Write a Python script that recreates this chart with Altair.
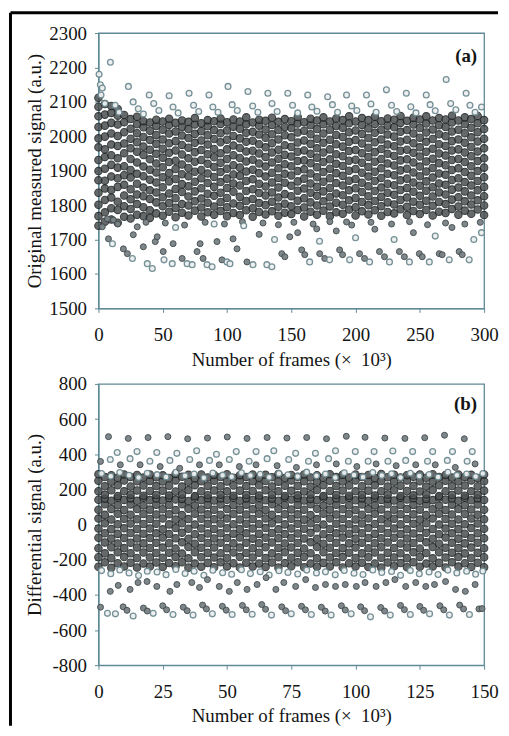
import altair as alt
import pandas as pd

FONT = "Liberation Serif"
AX = "#5f8a96"
TXT = "#141414"

# ---------------- panel (a): original measured signal ----------------
a_core_x = [0, 5, 10, 15, 20, 25, 30, 35, 40, 45, 50, 55, 60, 65, 70, 75, 80, 85, 90, 95,
            100, 105, 110, 115, 120, 125, 130, 135, 140, 145, 150, 155, 160, 165, 170, 175,
            180, 185, 190, 195, 200, 205, 210, 215, 220, 225, 230, 235, 240, 245, 250, 255,
            260, 265, 270, 275, 280, 285, 290, 295, 300]
a_core_y = [
    [1740, 1768, 1801, 1836, 1872, 1899, 1931, 1968, 1994, 2027, 2058, 2086, 2112],
    [1752, 1779, 1815, 1848, 1871, 1906, 1940, 1962, 1999, 2031, 2063, 2094],
    [1758, 1791, 1822, 1844, 1883, 1917, 1945, 1976, 2008, 2039, 2068, 2088],
    [1749, 1786, 1810, 1853, 1878, 1909, 1936, 1972, 2001, 2034, 2060, 2079],
    [1766, 1797, 1828, 1859, 1887, 1913, 1951, 1979, 2012, 2041, 2062],
    [1761, 1789, 1817, 1846, 1880, 1902, 1934, 1965, 1993, 2022, 2050],
    [1772, 1803, 1831, 1862, 1891, 1924, 1955, 1983, 2009, 2035, 2057],
    [1768, 1794, 1826, 1851, 1884, 1912, 1946, 1970, 1998, 2026, 2044],
    [1763, 1785, 1818, 1843, 1874, 1903, 1933, 1961, 1989, 2016, 2040],
    [1776, 1808, 1837, 1866, 1895, 1921, 1949, 1978, 2004, 2030, 2048],
    [1769, 1797, 1823, 1852, 1881, 1910, 1938, 1964, 1991, 2019, 2043],
    [1781, 1806, 1834, 1869, 1893, 1925, 1952, 1980, 2008, 2033, 2051],
    [1765, 1792, 1820, 1847, 1876, 1905, 1929, 1959, 1986, 2014, 2039],
    [1778, 1803, 1838, 1861, 1890, 1918, 1947, 1975, 2002, 2027, 2046],
    [1770, 1799, 1825, 1855, 1884, 1908, 1936, 1967, 1995, 2021, 2042],
    [1784, 1811, 1840, 1868, 1897, 1926, 1954, 1981, 2007, 2034, 2053],
    [1767, 1793, 1819, 1849, 1878, 1902, 1931, 1960, 1988, 2015, 2038],
    [1779, 1807, 1833, 1864, 1892, 1920, 1948, 1976, 2003, 2029, 2047],
    [1772, 1796, 1827, 1853, 1882, 1911, 1939, 1963, 1992, 2018, 2044],
    [1783, 1809, 1836, 1867, 1896, 1923, 1951, 1983, 2009, 2036, 2052],
    [1768, 1794, 1821, 1850, 1877, 1906, 1934, 1962, 1990, 2017, 2041],
    [1777, 1805, 1839, 1863, 1889, 1916, 1945, 1973, 2001, 2028, 2049],
    [1771, 1798, 1824, 1857, 1885, 1909, 1937, 1966, 1994, 2022, 2043],
    [1785, 1812, 1841, 1870, 1898, 1927, 1956, 1984, 2010, 2035, 2055],
    [1766, 1791, 1818, 1846, 1875, 1903, 1932, 1958, 1987, 2013, 2040],
    [1780, 1806, 1835, 1862, 1893, 1921, 1950, 1977, 2005, 2031, 2048],
    [1773, 1800, 1828, 1854, 1883, 1912, 1940, 1968, 1996, 2020, 2045],
    [1782, 1810, 1837, 1866, 1894, 1924, 1953, 1980, 2006, 2033, 2054],
    [1769, 1795, 1822, 1851, 1879, 1907, 1935, 1961, 1991, 2018, 2042],
    [1778, 1804, 1832, 1865, 1891, 1919, 1946, 1974, 2003, 2027, 2050],
    [1774, 1797, 1826, 1856, 1886, 1913, 1941, 1969, 1997, 2024, 2044],
    [1786, 1813, 1842, 1869, 1899, 1928, 1955, 1982, 2011, 2037, 2056],
    [1767, 1793, 1820, 1848, 1877, 1904, 1930, 1959, 1988, 2016, 2041],
    [1781, 1808, 1836, 1863, 1892, 1922, 1949, 1978, 2006, 2032, 2051],
    [1772, 1799, 1827, 1853, 1881, 1910, 1938, 1965, 1993, 2021, 2046],
    [1784, 1811, 1840, 1868, 1896, 1925, 1953, 1981, 2008, 2035, 2055],
    [1768, 1796, 1823, 1850, 1878, 1906, 1933, 1962, 1990, 2019, 2043],
    [1779, 1807, 1834, 1864, 1893, 1920, 1948, 1977, 2004, 2030, 2052],
    [1775, 1801, 1829, 1857, 1885, 1914, 1942, 1970, 1998, 2025, 2047],
    [1787, 1814, 1843, 1871, 1900, 1929, 1957, 1984, 2012, 2038, 2058],
    [1770, 1794, 1821, 1849, 1876, 1905, 1932, 1960, 1989, 2017, 2043],
    [1782, 1809, 1838, 1865, 1894, 1923, 1951, 1979, 2007, 2033, 2053],
    [1773, 1800, 1826, 1855, 1883, 1911, 1940, 1967, 1995, 2023, 2047],
    [1785, 1812, 1841, 1870, 1897, 1926, 1954, 1983, 2010, 2036, 2057],
    [1769, 1797, 1824, 1851, 1879, 1907, 1934, 1963, 1991, 2019, 2044],
    [1780, 1808, 1836, 1862, 1891, 1921, 1949, 1976, 2005, 2031, 2052],
    [1776, 1802, 1830, 1858, 1887, 1915, 1943, 1971, 1999, 2026, 2048],
    [1788, 1815, 1844, 1872, 1901, 1930, 1958, 1985, 2013, 2039, 2059],
    [1771, 1795, 1822, 1850, 1877, 1906, 1933, 1961, 1990, 2018, 2045],
    [1783, 1810, 1839, 1866, 1895, 1924, 1952, 1980, 2008, 2034, 2054],
    [1774, 1801, 1827, 1856, 1884, 1912, 1941, 1968, 1996, 2024, 2049],
    [1786, 1813, 1842, 1869, 1898, 1927, 1955, 1984, 2011, 2037, 2058],
    [1770, 1798, 1825, 1852, 1880, 1908, 1935, 1964, 1992, 2020, 2046],
    [1781, 1809, 1837, 1863, 1892, 1922, 1950, 1977, 2006, 2032, 2053],
    [1777, 1803, 1831, 1859, 1888, 1916, 1944, 1972, 2000, 2027, 2049],
    [1789, 1816, 1845, 1873, 1902, 1931, 1959, 1986, 2014, 2040, 2060],
    [1772, 1796, 1823, 1851, 1878, 1907, 1934, 1962, 1991, 2019, 2046],
    [1784, 1811, 1840, 1867, 1896, 1925, 1953, 1981, 2009, 2035, 2055],
    [1775, 1802, 1828, 1857, 1885, 1913, 1942, 1969, 1997, 2025, 2050],
    [1787, 1814, 1843, 1870, 1899, 1928, 1956, 1985, 2012, 2038, 2059],
    [1771, 1799, 1826, 1853, 1881, 1909, 1936, 1965, 1993, 2021, 2047],
]

a_top_x = [0.5, 1.5, 3.0, 9.3, 23.3, 39.5, 55.0, 70.5, 86.0, 100.8, 116.3, 131.8, 147.3,
           162.8, 178.3, 193.0, 208.5, 224.0, 239.5, 255.0, 270.5, 286.0]
a_top_y = [2180, 2150, 2140, 2215, 2145, 2120, 2118, 2125, 2120, 2145, 2130, 2125, 2125,
           2120, 2115, 2120, 2120, 2135, 2125, 2120, 2165, 2125]

a_up2_x = [2, 5, 13, 16, 27, 31, 35, 43, 47, 58, 62, 74, 78, 89, 93, 104, 108, 120, 124, 135,
           139, 151, 155, 166, 170, 182, 186, 197, 201, 212, 216, 228, 232, 243, 247, 258,
           262, 274, 278, 289, 293, 298]
a_up2_y = [2120, 2095, 2090, 2070, 2100, 2080, 2065, 2095, 2075, 2085, 2068, 2090, 2072, 2085,
           2070, 2092, 2075, 2088, 2070, 2095, 2072, 2090, 2068, 2085, 2073, 2092, 2070, 2088,
           2075, 2094, 2070, 2090, 2072, 2086, 2068, 2092, 2074, 2095, 2077, 2090, 2070, 2085]

a_low_f_x = [3, 7.0, 11.6, 7.8, 19.4, 22.5, 30.2, 27.1, 34.9, 44.2, 45.7, 50.4, 58.1, 65.1,
             76.7, 79.1, 81.4, 92.2, 96.1, 104.7, 107.8, 115.5, 125, 142.6, 145, 148.8, 155,
             158.1, 160.5, 169.8, 172.1, 176, 185, 187.6, 189.9, 193, 203.1, 207, 215, 218.6,
             222.5, 234.1, 238, 245, 249.6, 251.9, 265.1, 267.4, 275, 280.6, 283]
a_low_f_y = [1737, 1760, 1757, 1702, 1673, 1659, 1737, 1714, 1679, 1694, 1708, 1665, 1688, 1645,
             1665, 1688, 1645, 1694, 1641, 1702, 1673, 1635, 1715, 1659, 1650, 1708, 1720,
             1670, 1656, 1731, 1659, 1645, 1725, 1670, 1656, 1751, 1659, 1645, 1730, 1665,
             1650, 1665, 1650, 1720, 1659, 1650, 1659, 1656, 1735, 1665, 1656]

a_low_h_x = [10.9, 26.4, 38, 41.9, 51, 57.4, 60, 69, 72.9, 84.5, 88.4, 90, 100, 102.3, 113,
             120.2, 131, 134.9, 137, 164.3, 172, 179.8, 195.4, 200, 210.9, 226.4, 230, 241.9,
             257.4, 262, 272.9, 288.4, 292, 298]
a_low_h_y = [1688, 1645, 1630, 1616, 1641, 1630, 1735, 1630, 1627, 1627, 1621, 1745, 1635, 1630,
             1740, 1627, 1627, 1621, 1700, 1635, 1695, 1641, 1641, 1705, 1635, 1635, 1700, 1635,
             1635, 1710, 1641, 1641, 1700, 1720]

a_edge_x = [15, 37, 52, 67, 83, 98, 112, 128, 140, 152, 167, 180, 197, 212, 228, 242, 256, 270, 285, 297]
a_edge_y = [1745, 1750, 1748, 1742, 1750, 1745, 1752, 1748, 1743, 1750, 1745, 1752, 1742, 1750,
            1745, 1752, 1743, 1748, 1745, 1750]

# ---------------- panel (b): differential signal ----------------
b_core_x = [0, 2.5, 5, 7.5, 10, 12.5, 15, 17.5, 20, 22.5, 25, 27.5, 30, 32.5, 35, 37.5, 40,
            42.5, 45, 47.5, 50, 52.5, 55, 57.5, 60, 62.5, 65, 67.5, 70, 72.5, 75, 77.5, 80,
            82.5, 85, 87.5, 90, 92.5, 95, 97.5, 100, 102.5, 105, 107.5, 110, 112.5, 115,
            117.5, 120, 122.5, 125, 127.5, 130, 132.5, 135, 137.5, 140, 142.5, 145, 147.5, 150]
b_core_y = [
    [-240, -186, -135, -75, -22, 34, 84, 141, 190, 249, 286],
    [-215, -164, -102, -49, 7, 55, 115, 147, 169, 218, 270],
    [-246, -191, -129, -80, -26, 29, 89, 136, 195, 244, 281],
    [-220, -158, -108, -53, 2, 61, 110, 152, 163, 223, 266],
    [-238, -185, -134, -76, -21, 33, 83, 140, 189, 250, 285],
    [-217, -163, -103, -48, 6, 56, 114, 149, 170, 217, 271],
    [-244, -190, -130, -79, -25, 30, 88, 135, 194, 246, 282],
    [-221, -159, -107, -52, 3, 60, 109, 153, 164, 222, 267],
    [-239, -187, -133, -77, -23, 32, 85, 139, 191, 248, 284],
    [-216, -162, -104, -50, 5, 57, 113, 148, 168, 219, 269],
    [-242, -189, -131, -74, -27, 35, 87, 137, 193, 245, 280],
    [-219, -160, -106, -54, 1, 59, 111, 151, 165, 221, 265],
    [-237, -184, -136, -78, -20, 28, 82, 142, 188, 251, 287],
    [-214, -165, -101, -47, 8, 54, 116, 146, 171, 216, 272],
    [-245, -192, -128, -81, -24, 31, 90, 134, 196, 243, 283],
    [-222, -157, -109, -55, 0, 62, 108, 154, 162, 224, 264],
    [-240, -186, -132, -76, -22, 33, 86, 139, 190, 247, 285],
    [-218, -161, -105, -51, 4, 58, 112, 150, 167, 220, 268],
    [-243, -188, -130, -79, -25, 30, 84, 137, 194, 249, 282],
    [-215, -163, -103, -49, 6, 56, 114, 148, 169, 218, 270],
    [-238, -190, -134, -77, -21, 34, 88, 141, 189, 245, 286],
    [-220, -159, -107, -52, 2, 60, 110, 152, 164, 222, 266],
    [-244, -185, -131, -74, -26, 29, 85, 136, 193, 250, 281],
    [-217, -162, -104, -50, 5, 57, 113, 149, 168, 219, 271],
    [-239, -187, -135, -80, -23, 32, 87, 140, 191, 246, 284],
    [-221, -160, -106, -53, 3, 61, 109, 151, 165, 223, 267],
    [-241, -191, -129, -75, -20, 35, 83, 138, 195, 248, 283],
    [-216, -164, -102, -48, 7, 55, 115, 147, 170, 217, 269],
    [-245, -186, -133, -78, -27, 30, 89, 135, 190, 244, 287],
    [-219, -158, -108, -54, 1, 59, 111, 153, 163, 221, 265],
    [-237, -189, -130, -76, -22, 33, 86, 142, 192, 251, 282],
    [-214, -161, -105, -51, 4, 58, 112, 150, 166, 220, 272],
    [-243, -184, -136, -79, -24, 28, 84, 137, 188, 247, 285],
    [-222, -163, -101, -47, 8, 54, 116, 146, 171, 216, 268],
    [-240, -192, -128, -81, -21, 31, 90, 139, 196, 243, 281],
    [-218, -157, -109, -55, 0, 62, 108, 154, 162, 224, 266],
    [-238, -188, -132, -77, -25, 34, 85, 136, 191, 249, 286],
    [-215, -162, -104, -50, 5, 57, 113, 148, 168, 219, 270],
    [-244, -185, -134, -74, -23, 32, 87, 141, 194, 245, 283],
    [-220, -160, -107, -52, 2, 60, 110, 152, 164, 222, 267],
    [-239, -190, -131, -80, -26, 29, 83, 138, 189, 250, 284],
    [-217, -164, -103, -49, 6, 56, 114, 149, 169, 218, 271],
    [-242, -186, -135, -76, -20, 35, 88, 135, 193, 246, 282],
    [-221, -159, -106, -53, 3, 61, 109, 151, 165, 223, 265],
    [-245, -189, -129, -78, -24, 30, 86, 140, 190, 248, 287],
    [-216, -161, -102, -48, 7, 55, 115, 147, 170, 217, 269],
    [-237, -187, -133, -75, -22, 33, 84, 137, 195, 244, 283],
    [-219, -163, -108, -54, 1, 59, 111, 153, 163, 221, 268],
    [-243, -191, -130, -79, -27, 31, 89, 142, 191, 251, 281],
    [-214, -158, -105, -51, 4, 58, 112, 150, 166, 220, 272],
    [-240, -184, -136, -77, -21, 28, 85, 136, 188, 247, 285],
    [-222, -162, -101, -47, 8, 54, 116, 146, 171, 216, 266],
    [-238, -192, -128, -81, -25, 34, 87, 139, 196, 243, 286],
    [-218, -157, -109, -55, 0, 62, 108, 154, 162, 224, 270],
    [-244, -188, -132, -74, -23, 32, 83, 141, 190, 249, 282],
    [-215, -160, -104, -50, 5, 57, 113, 148, 168, 219, 267],
    [-239, -185, -134, -80, -26, 29, 88, 135, 194, 245, 284],
    [-220, -164, -107, -52, 2, 60, 110, 152, 164, 222, 271],
    [-241, -190, -131, -76, -20, 35, 86, 138, 189, 250, 283],
    [-217, -161, -103, -49, 6, 56, 114, 149, 169, 218, 265],
    [-243, -186, -135, -78, -24, 30, 84, 140, 193, 246, 285],
]

b_top_x = [3.9, 11.6, 19.3, 27.0, 34.7, 42.4, 50.1, 57.8, 65.6, 73.3, 81.0, 88.7, 96.4,
           103.7, 111.4, 119.2, 126.9, 134.6, 142.3]
b_top_y = [500, 490, 495, 500, 488, 492, 498, 490, 495, 492, 495, 488, 502, 496, 492, 490,
           494, 508, 488]

b_hi_h_x = [4.6, 7.3, 12.3, 15.0, 20.0, 22.7, 27.8, 30.5, 35.5, 38.2, 43.2, 45.9, 50.9, 53.6,
            58.6, 61.3, 65.6, 68.2, 74.0, 76.7, 81.7, 84.4, 89.5, 92.2, 97.2, 99.9, 104.9,
            107.2, 112.6, 114.5, 119.5, 122.2, 128.0, 130.0, 135.7, 137.7, 143.4, 145.4]
b_hi_h_y = [370, 410, 375, 415, 360, 410, 365, 405, 370, 420, 365, 400, 370, 415, 360, 415,
            375, 420, 370, 405, 360, 405, 375, 420, 360, 415, 360, 415, 360, 418, 365, 415,
            360, 415, 365, 415, 360, 415]

b_mid_f_x = [0.8, 8.5, 16.2, 24.0, 31.6, 39.3, 47.0, 54.8, 61.3, 69.5, 77.0, 84.8, 92.5,
             100.5, 108.0, 115.8, 123.4, 131.0, 138.8, 146.5]
b_mid_f_y = [359, 340, 340, 330, 320, 340, 340, 330, 340, 335, 325, 340, 345, 330, 345, 335,
             340, 340, 325, 345]

b_band_x = [1.2, 4.8, 8.3, 11.9, 15.6, 19.0, 22.8, 26.3, 30.1, 33.7, 37.2, 41.0, 44.5, 48.3,
            51.8, 55.6, 59.1, 62.9, 66.4, 70.2, 73.7, 77.5, 81.0, 84.8, 88.3, 92.1, 95.6,
            99.4, 102.9, 106.7, 110.2, 114.0, 117.5, 121.3, 124.8, 128.6, 132.1, 135.9,
            139.4, 143.2, 146.7, 149.5]
b_band_hi_y = [290, 275, 296, 280, 268, 292, 284, 270, 297, 278, 288, 266, 293, 281, 272, 295,
               279, 286, 269, 291, 283, 274, 298, 277, 287, 267, 294, 282, 271, 296, 279, 289,
               268, 292, 276, 285, 270, 297, 281, 288, 273, 290]
b_band_lo_y = [-262, -280, -258, -275, -290, -265, -270, -285, -256, -278, -266, -288, -260,
               -274, -283, -257, -279, -268, -287, -263, -272, -281, -259, -276, -269, -286,
               -261, -277, -284, -258, -273, -267, -289, -262, -280, -270, -284, -259, -275,
               -266, -282, -264]

b_lo_f_x = [4.6, 7.7, 12.3, 15.4, 18.9, 22.7, 27.8, 30.5, 36.3, 39.3, 42.4, 47.0, 50.9, 54.0,
            57.8, 61.7, 65.2, 69.0, 72.1, 76.7, 80.6, 84.4, 88.3, 92.2, 96.0, 100.3, 103.7,
            108.0, 111.8, 115.3, 119.5, 123.4, 127.3, 130.7, 135.0, 138.9, 142.7, 146.5]
b_lo_f_y = [-380, -346, -369, -330, -324, -352, -380, -341, -330, -358, -313, -352, -380, -330,
            -369, -341, -302, -369, -330, -352, -313, -358, -341, -352, -341, -352, -330, -352,
            -330, -313, -352, -330, -352, -341, -324, -369, -380, -341]

b_bot_f_x = [0.8, 9.6, 11.1, 17.5, 19.0, 25.0, 26.5, 33.0, 34.5, 40.5, 42.0, 48.2, 49.7, 56.0,
             57.5, 63.5, 65.0, 71.3, 72.8, 79.0, 80.5, 86.7, 88.2, 94.5, 96.0, 102.0, 103.5,
             109.8, 111.3, 117.5, 119.0, 125.0, 126.5, 132.8, 134.3, 140.5, 142.0, 148.0, 149.2]
b_bot_f_y = [-470, -468, -488, -475, -492, -462, -485, -470, -490, -458, -480, -465, -487, -460,
             -485, -455, -482, -468, -490, -465, -485, -470, -492, -462, -486, -468, -490, -472,
             -492, -460, -484, -466, -488, -462, -485, -458, -480, -480, -478]

b_bot_h_x = [3.5, 6.6, 13.5, 21.3, 29.0, 36.8, 44.3, 52.0, 59.8, 67.3, 75.0, 82.8, 90.5, 98.3,
             105.8, 113.5, 121.3, 128.8, 136.5, 144.3]
b_bot_h_y = [-505, -508, -520, -505, -512, -515, -508, -512, -510, -515, -508, -512, -515, -508,
             -525, -515, -512, -508, -515, -512]

a_xticks = [0, 50, 100, 150, 200, 250, 300]
a_yticks = [1500, 1600, 1700, 1800, 1900, 2000, 2100, 2200, 2300]
b_xticks = [0, 25, 50, 75, 100, 125, 150]
b_yticks = [-800, -600, -400, -200, 0, 200, 400, 600, 800]
x_title = "Number of frames (\u00d7 \u00a010\u00b3)"
a_ytitle = "Original measured signal (a.u.)"
b_ytitle = "Differential signal (a.u.)"
panel_labels = ["(a)", "(b)"]


def pts(xs, ys):
    return pd.DataFrame({"x": list(xs), "y": list(ys)})


def cols(xs, yss):
    rx, ry = [], []
    for x, ys in zip(xs, yss):
        for y in ys:
            rx.append(x)
            ry.append(y)
    return pd.DataFrame({"x": rx, "y": ry})


STY = {
    "core": dict(fill="#4c5051", stroke="#1d2122", strokeWidth=1.1, opacity=0.85, size=56),
    "filled": dict(fill="#7a8184", stroke="#404b4e", strokeWidth=1.0, opacity=0.95, size=36),
    "hollow": dict(fill="#eef0f0", stroke="#6f8b92", strokeWidth=1.3, opacity=0.95, size=34),
}

W = 388


def panel(layers, xdom, xticks, ydom, yticks, ytitle, h, label, label_y, borders):
    xax = alt.Axis(values=xticks, title=x_title, grid=False, tickSize=4, tickColor=AX,
                   domainColor=AX, domainWidth=1.3, labelFont=FONT, labelFontSize=19,
                   labelColor=TXT, labelPadding=13, titleFont=FONT, titleFontSize=19,
                   titleFontWeight="normal", titleColor=TXT, titlePadding=6,
                   labelFlush=False, labelOverlap=False, labelExpr="'' + datum.value")
    yax = alt.Axis(values=yticks, title=ytitle, grid=False, tickSize=4, tickColor=AX,
                   domainColor=AX, domainWidth=1.3, labelFont=FONT, labelFontSize=19,
                   labelColor=TXT, labelPadding=8, titleFont=FONT, titleFontSize=19,
                   titleFontWeight="normal", titleColor=TXT, titleX=-54,
                   labelFlush=False, labelOverlap=False, labelExpr="'' + datum.value")
    xs = alt.Scale(domain=xdom, nice=False, zero=False)
    ys = alt.Scale(domain=ydom, nice=False, zero=False)
    charts = []
    for df, kind in layers:
        charts.append(
            alt.Chart(df).mark_circle(**STY[kind]).encode(
                x=alt.X("x:Q", scale=xs, axis=xax),
                y=alt.Y("y:Q", scale=ys, axis=yax),
            )
        )
    lab = alt.Chart(pd.DataFrame({"t": [label]})).mark_text(
        font=FONT, fontSize=19, fontWeight="bold", color=TXT, align="right", baseline="middle"
    ).encode(text="t:N", x=alt.value(W - 7), y=alt.value(label_y))
    charts.append(lab)
    if borders:
        one = pd.DataFrame({"v": [0]})
        charts.append(alt.Chart(one).mark_rule(color="black", strokeWidth=3).encode(
            x=alt.value(-88.5), y=alt.value(-20.5), y2=alt.value(697)))
        charts.append(alt.Chart(one).mark_rule(color="black", strokeWidth=3).encode(
            x=alt.value(-88.5), x2=alt.value(402), y=alt.value(-20.5)))
    return alt.layer(*charts).properties(width=W, height=h)


pa = panel(
    [
        (cols(a_core_x, a_core_y), "core"),
        (pts(a_edge_x, a_edge_y), "filled"),
        (pts(a_low_f_x, a_low_f_y), "filled"),
        (pts(a_low_h_x, a_low_h_y), "hollow"),
        (pts(a_up2_x, a_up2_y), "hollow"),
        (pts(a_top_x, a_top_y), "hollow"),
    ],
    [0, 300], a_xticks, [1500, 2300], a_yticks, a_ytitle, 277, panel_labels[0], 23, True,
)

pb = panel(
    [
        (cols(b_core_x, b_core_y), "core"),
        (pts(b_band_x, b_band_hi_y), "hollow"),
        (pts(b_band_x, b_band_lo_y), "hollow"),
        (pts(b_mid_f_x, b_mid_f_y), "filled"),
        (pts(b_hi_h_x, b_hi_h_y), "hollow"),
        (pts(b_top_x, b_top_y), "filled"),
        (pts(b_lo_f_x, b_lo_f_y), "filled"),
        (pts(b_bot_f_x, b_bot_f_y), "filled"),
        (pts(b_bot_h_x, b_bot_h_y), "hollow"),
    ],
    [0, 150], b_xticks, [-800, 800], b_yticks, b_ytitle, 283, panel_labels[1], 20, False,
)

chart = alt.vconcat(pa, pb, spacing=76, bounds="flush").properties(
    padding=0, background="white"
).configure_view(stroke=AX, strokeWidth=1.3)

chart.save("out.html", embed_options={"renderer": "svg", "actions": False})
